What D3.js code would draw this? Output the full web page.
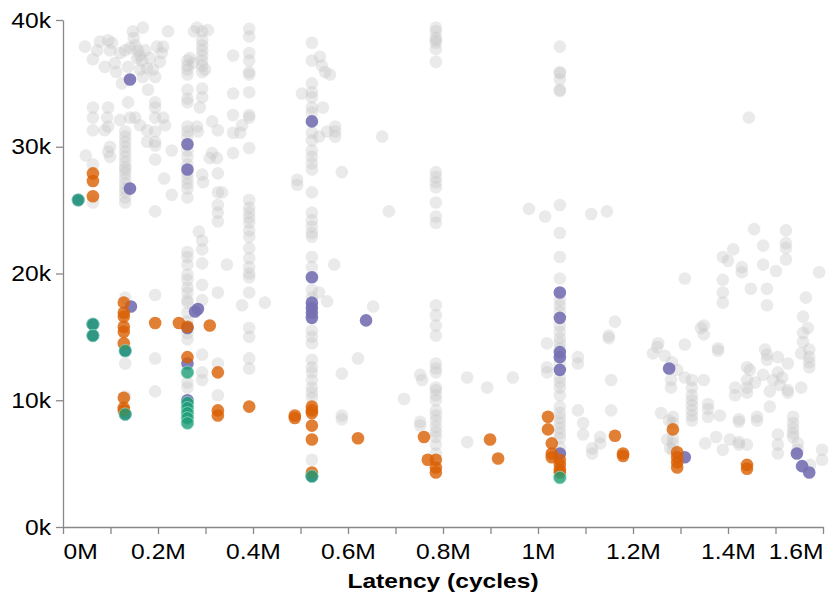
<!DOCTYPE html>
<html><head><meta charset="utf-8">
<script src="https://cdn.jsdelivr.net/npm/d3@7"></script>
<style>body{margin:0;background:#fff} svg{display:block}</style>
</head><body><svg id="c" width="831" height="603"></svg>
<script>
// ---------- data (x in millions of cycles, y in thousands) ----------
const xTicks = [0,0.1,0.2,0.3,0.4,0.5,0.6,0.7,0.8,0.9,1.0,1.1,1.2,1.3,1.4,1.5,1.6];
const yTicks = [0,10,20,30,40];
const xTitle = "Latency (cycles)";

const grayColumns = [
  [0.131,[31.2,30.8,30.4,30.0,29.6,29.2,28.8,28.4,28.2,27.9,27.5,27.1,26.7,26.4,26.0,25.6,18.1,12.9,10.3]],
  [0.262,[36.8,36.4,36.1,35.7,34.5,33.8,33.5,31.6,31.2,30.8,29.7,29.2,28.6,27.9,27.5,27.1,26.7,26.0,21.7,21.3,20.7,19.9,19.5,18.9,18.5,17.9,17.7,16.9,16.2,15.3,14.8,11.4,11.0]],
  [0.293,[39.1,38.4,38.0,37.6,37.2,36.8,36.4,35.9,34.6,33.9,22.6,21.9,20.8,19.1,17.9,13.6,12.2,11.6]],
  [0.326,[27.9,26.4,25.4,24.8,24.1,18.5,12.9,10.4]],
  [0.358,[37.2,34.2,32.5,31.1,29.5]],
  [0.392,[39.3,38.7,37.4,36.8,35.9,35.7,34.3,32.5,32.3,29.9,25.8,25.2,24.8,24.4,24.0,23.4,22.9,22.0,21.2,20.5,20.0,19.7,18.5,15.7,15.0,13.3,12.5]],
  [0.524,[38.2,36.8,35.0,34.3,33.9,33.1,32.7,31.1,30.5,29.7,29.2,28.7,28.2,26.4,24.8,24.2,23.7,23.2,22.9,21.3,20.5,18.7,18.1,15.5,15.0,14.5,13.2,12.6,12.2,11.6,11.0,10.6,10.2,5.3]],
  [0.785,[39.4,39.1,38.6,38.4,38.2,37.7,36.7,28.0,27.6,27.2,26.8,25.6,24.5,24.0,17.5,16.7,15.9,15.1,12.9,12.5,12.2,11.0,10.8,10.4,10.0,9.2,8.8,8.4,7.9,7.5,7.1,6.5,5.8]],
  [1.046,[37.9,35.9,35.8,35.3,34.5,34.4,25.4,23.2,21.3,19.6,17.9,17.5,17.0,15.9,15.4,14.9,14.5,14.1,12.9,11.8,11.4,11.0,10.4,9.5,9.0,8.6,8.2,7.8,7.4,7.0,6.3]],
  [1.324,[11.6,11.0,10.4,10.0,9.6,9.2,8.8,8.4]]
];

const grayScatter = [
  [0.046,37.9],[0.063,36.9],[0.072,37.6],[0.078,38.3],[0.088,36.3],[0.095,38.4],[0.099,37.6],[0.103,38.2],[0.109,36.6],[0.112,35.9],
  [0.120,37.4],[0.124,35.0],[0.131,37.6],[0.137,36.3],[0.141,37.8],[0.147,39.1],[0.149,38.6],[0.152,38.0],[0.156,37.0],[0.158,37.6],
  [0.162,36.1],[0.162,37.2],[0.166,36.8],[0.168,39.4],[0.168,35.5],[0.173,37.6],[0.177,36.2],[0.179,34.5],[0.183,37.0],[0.189,36.1],
  [0.194,35.5],[0.198,37.9],[0.204,36.7],[0.208,37.4],[0.211,37.9],[0.221,39.1],
  [0.063,33.1],[0.095,33.1],[0.063,32.3],[0.093,32.3],[0.063,31.3],[0.088,31.3],[0.095,31.6],[0.099,30.0],[0.099,29.2],[0.095,29.6],
  [0.120,32.1],[0.141,32.3],[0.152,32.3],[0.162,31.7],[0.137,33.5],[0.177,30.4],[0.177,31.3],[0.194,33.5],[0.194,33.1],[0.194,32.3],
  [0.194,31.2],[0.194,30.4],[0.194,30.1],[0.194,29.0],[0.211,32.3],[0.215,31.7],[0.229,29.7],[0.213,27.5],[0.229,26.2],[0.194,24.9],
  [0.048,29.3],[0.063,28.6],[0.063,25.6],
  [0.276,39.1],[0.282,39.4],[0.305,39.2],[0.267,37.0],[0.274,36.6],[0.299,36.1],[0.288,33.1],[0.282,31.6],[0.284,31.2],[0.314,29.5],
  [0.309,29.1],[0.324,29.1],[0.293,27.8],[0.295,27.2],[0.335,26.4],[0.314,32.0],[0.326,31.3],[0.373,31.1],[0.377,31.7],[0.286,23.3],
  [0.345,20.7],[0.194,18.3],[0.194,13.3],[0.194,10.7],[0.377,17.5],[0.425,17.7],
  [0.503,34.2],[0.493,27.4],[0.493,27.0],[0.541,37.1],[0.545,36.4],[0.552,35.9],[0.562,35.7],[0.547,33.1],[0.556,31.2],[0.573,31.6],
  [0.573,31.2],[0.573,30.8],[0.539,30.8],[0.587,28.0],[0.672,30.8],[0.686,24.9],[0.571,20.7],[0.539,18.5],[0.556,17.8],[0.587,12.1],
  [0.621,13.3],[0.653,17.4],[0.587,8.8],[0.587,8.5],[0.718,10.1],
  [0.752,12.0],[0.756,11.6],[0.752,8.3],[0.752,8.0],[0.851,11.8],[0.893,11.0],[0.947,11.8],[0.851,6.7],[0.981,25.1],[1.015,24.5],
  [1.112,24.7],[1.145,24.9],
  [1.019,14.5],[1.019,12.6],[1.019,12.2],[1.084,13.4],[1.084,12.9],[1.084,9.2],[1.095,8.2],[1.095,7.3],[1.114,6.2],[1.114,5.8],
  [1.131,7.1],[1.131,6.6],[1.149,15.1],[1.149,14.9],[1.162,16.2],[1.154,11.6],[1.154,9.2],[1.444,32.3],
  [1.455,23.5],[1.522,23.4],[1.474,22.2],[1.522,22.4],[1.522,22.0],[1.411,21.9],[1.389,21.3],[1.400,21.0],[1.429,20.5],[1.429,20.1],
  [1.474,20.7],[1.501,20.2],[1.522,21.1],[1.592,20.1],[1.309,19.6],[1.389,19.5],[1.389,18.5],[1.389,17.7],[1.448,18.8],[1.482,18.8],
  [1.482,17.5],[1.564,18.1],[1.558,16.6],[1.568,15.7],[1.558,15.3],[1.558,14.6],[1.554,13.7],[1.571,14.0],[1.571,13.4],[1.571,13.0],
  [1.571,12.6],
  [1.349,15.9],[1.343,15.7],[1.349,15.2],[1.253,14.5],[1.251,14.2],[1.242,13.7],[1.267,13.5],[1.309,14.4],[1.379,14.1],[1.379,13.9],
  [1.282,13.0],[1.293,12.4],[1.280,11.6],[1.280,11.0],[1.309,11.8],[1.349,11.6],[1.259,9.0],[1.358,9.7],[1.358,9.3],[1.358,8.7],
  [1.284,8.7],[1.284,8.2],[1.383,8.8],[1.415,11.0],[1.415,10.4],[1.440,12.6],[1.440,11.6],[1.440,11.0],[1.440,10.6],[1.446,12.4],
  [1.474,12.0],[1.478,14.0],[1.482,13.6],[1.482,13.2],[1.505,13.4],[1.526,12.9],[1.505,12.2],[1.514,11.8],[1.495,11.6],[1.509,11.2],
  [1.488,10.7],[1.526,10.8],[1.526,10.6],[1.554,11.0],[1.457,11.4],[1.488,9.5],[1.537,8.7],[1.461,8.7],[1.461,8.4],[1.423,8.5],
  [1.423,8.3],[1.272,6.9],[1.278,6.2],[1.284,7.0],[1.284,6.6],[1.284,6.1],[1.276,8.4],[1.352,6.6],[1.375,7.1],[1.389,6.1],
  [1.404,6.9],[1.423,6.7],[1.423,6.5],[1.440,6.5],[1.505,7.3],[1.505,6.5],[1.505,5.8],[1.537,8.2],[1.537,7.8],[1.537,7.4],
  [1.537,7.1],[1.547,6.6],[1.547,6.1],[1.573,4.9],[1.598,6.1],[1.598,5.3]
];

const orangePoints = [
  [0.063,27.9],[0.063,27.3],[0.063,26.1],[0.128,17.7],[0.128,16.9],[0.128,16.6],[0.128,15.8],[0.128,15.4],[0.128,14.5],
  [0.128,10.2],[0.128,9.4],[0.128,9.2],[0.194,16.1],[0.244,16.1],[0.262,15.8],[0.262,13.4],[0.309,15.9],[0.326,12.2],
  [0.326,9.2],[0.326,8.8],[0.392,9.5],[0.488,8.8],[0.488,8.6],[0.524,9.5],[0.524,9.2],[0.524,9.0],[0.524,8.0],[0.524,6.9],
  [0.524,4.3],[0.621,7.0],[0.760,7.1],[0.768,5.3],[0.785,5.3],[0.785,4.7],[0.785,4.3],[0.899,6.9],[0.916,5.4],
  [1.021,8.7],[1.021,7.7],[1.029,6.6],[1.029,5.8],[1.029,5.5],[1.046,5.3],[1.046,4.9],[1.046,4.5],[1.046,4.3],
  [1.162,7.2],[1.179,5.8],[1.179,5.6],[1.284,7.7],[1.293,5.9],[1.293,5.5],[1.293,5.1],[1.293,4.7],[1.440,4.9],[1.440,4.6]
];

const purplePoints = [
  [0.141,35.3],[0.141,26.7],[0.143,17.4],[0.262,30.2],[0.262,28.2],[0.262,15.7],[0.262,12.9],[0.262,10.0],[0.278,17.0],
  [0.284,17.2],[0.524,32.0],[0.524,19.7],[0.524,17.7],[0.524,17.3],[0.524,16.9],[0.524,16.5],[0.638,16.3],
  [1.046,18.5],[1.046,16.5],[1.046,13.8],[1.046,13.4],[1.046,12.4],[1.046,5.8],[1.276,12.5],[1.309,5.5],
  [1.545,5.8],[1.556,4.8],[1.571,4.3],
  [0.032,25.8],[0.063,16.0],[0.063,15.1],[0.131,13.9],[0.131,8.9],[0.524,4.0]
];

const greenPoints = [
  [0.032,25.8],[0.063,16.0],[0.063,15.1],[0.131,13.9],[0.131,8.9],[0.262,12.2],[0.262,9.8],[0.262,9.4],
  [0.262,9.0],[0.262,8.6],[0.262,8.2],[0.524,4.0],[1.046,3.9]
];

// ---------- drawing ----------
const W = 831, H = 603;
const svg = d3.select("#c");
const x = d3.scaleLinear().domain([0, 1.6]).range([63, 823]);
const y = d3.scaleLinear().domain([0, 40]).range([527, 20]);
const FONT = "'Liberation Sans', Arial, Helvetica, sans-serif";
const SX = 1.12;

const grayPoints = grayColumns.flatMap(([cx, ys]) => ys.map(v => [cx, v])).concat(grayScatter);
const R = 6.3;

function drawPoints(data, fill, opacity, stroke) {
  const g = svg.append("g");
  g.selectAll("circle").data(data).join("circle")
    .attr("cx", d => x(d[0])).attr("cy", d => y(d[1])).attr("r", R)
    .attr("fill", fill).attr("fill-opacity", opacity)
    .attr("stroke", stroke || "none").attr("stroke-width", stroke ? 1 : 0)
    .attr("stroke-opacity", 0.8);
}

// axes
const yAxis = d3.axisLeft(y).tickValues(yTicks).tickSize(7).tickSizeOuter(0).tickFormat(d => d + "k");
const gy = svg.append("g").attr("transform", "translate(63,0)").call(yAxis);
gy.selectAll("text").attr("x", -12 / SX).attr("font-size", 22).attr("font-family", FONT)
  .attr("fill", "#000").attr("transform", `scale(${SX},1)`);

const xAxis = d3.axisBottom(x).tickValues(xTicks).tickSize(7).tickSizeOuter(0)
  .tickFormat((d, i) => i % 2 === 0 ? `${+d.toFixed(1)}M` : "");
const gx = svg.append("g").attr("transform", "translate(0,527)").call(xAxis);
gx.selectAll("text").attr("y", 16.5).attr("font-size", 22).attr("font-family", FONT)
  .attr("fill", "#000").attr("transform", `scale(${SX},1)`)
  .attr("text-anchor", (d, i, n) => i === 0 ? "start" : (i === n.length - 1 ? "end" : "middle"));

[gx, gy].forEach(g => {
  g.select(".domain").attr("stroke", "#888").attr("stroke-width", 1.3);
  g.selectAll(".tick line").attr("stroke", "#888").attr("stroke-width", 1.3);
});

drawPoints(grayPoints, "#c4c4c4", 0.35);
drawPoints(purplePoints, "#7570b3", 0.9);
drawPoints(orangePoints, "#d95f02", 0.8);
drawPoints(greenPoints, "#1b9e77", 0.8, "#8fd4bf");

svg.append("text").attr("transform", "translate(443,588) scale(1.17,1)")
  .attr("text-anchor", "middle").attr("font-family", FONT).attr("font-weight", "bold")
  .attr("font-size", 21).attr("fill", "#000").text(xTitle);
</script>
</body></html>
